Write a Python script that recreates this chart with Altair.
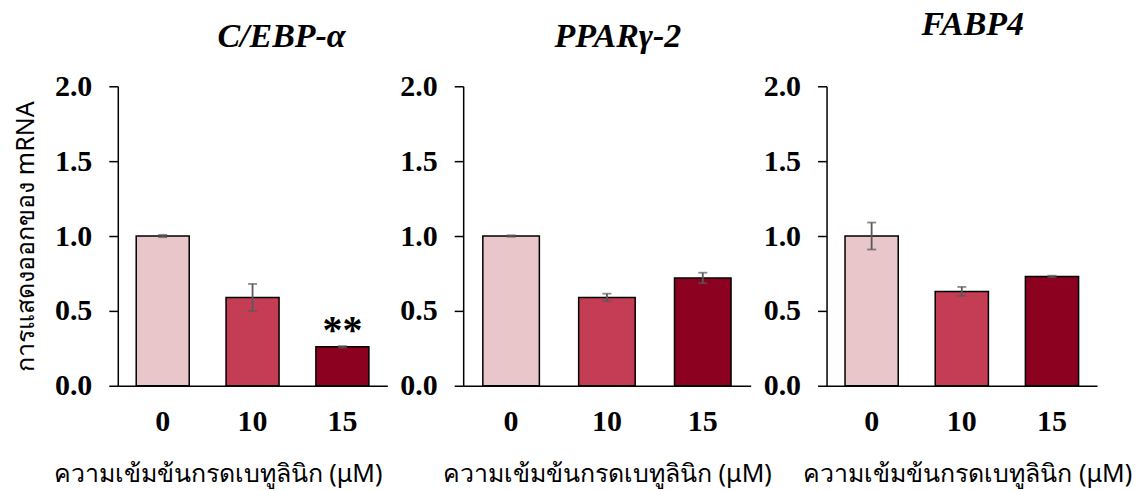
import altair as alt
import pandas as pd

# Relative mRNA expression after betulinic acid treatment (mean ± SD)
doses = ["0", "10", "15"]
bar_colors = ["#E8C6CA", "#C53C55", "#8C0020"]

genes = ["C/EBP-α", "PPARγ-2", "FABP4"]
cebpa_mean = [1.00, 0.59, 0.26]
cebpa_err = [0.008, 0.09, 0.005]
cebpa_sig = ["", "", "**"]

ppar_mean = [1.00, 0.59, 0.72]
ppar_err = [0.005, 0.025, 0.035]
ppar_sig = ["", "", ""]

fabp_mean = [1.00, 0.63, 0.73]
fabp_err = [0.09, 0.03, 0.005]
fabp_sig = ["", "", ""]

y_title = "การแสดงออกของ mRNA"
x_title = "ความเข้มข้นกรดเบทูลินิก (μM)"

SERIF = "Liberation Serif"
THAI = "Tahoma, Noto Sans, DejaVu Sans, sans-serif"


def panel(name, means, errs, sig, width, show_ytitle, title_dx, title_dy, xtitle_x):
    df = pd.DataFrame({
        "dose": doses,
        "mean": means,
        "lo": [m - e for m, e in zip(means, errs)],
        "hi": [m + e for m, e in zip(means, errs)],
        "sig": sig,
    })
    base = alt.Chart(df)
    x_enc = alt.X(
        "dose:N",
        sort=doses,
        scale=alt.Scale(paddingInner=0.41, paddingOuter=0.205),
        axis=alt.Axis(
            title=x_title,
            labelAngle=0,
            ticks=False,
            tickSize=0,
            labelPadding=36,
            labelBaseline="middle",
            labelFont=SERIF,
            labelFontWeight="bold",
            labelFontSize=30,
            labelColor="black",
            titleFont=THAI,
            titleFontSize=25,
            titleFontWeight="normal",
            titleColor="black",
            titlePadding=25,
            titleX=xtitle_x,
            domainColor="black",
            domainWidth=1.5,
        ),
    )
    y_axis = alt.Axis(
        values=[0, 0.5, 1.0, 1.5, 2.0],
        format=".1f",
        grid=False,
        tickSize=9,
        tickColor="black",
        tickWidth=1.5,
        labelPadding=17,
        labelFont=SERIF,
        labelFontWeight="bold",
        labelFontSize=30,
        labelColor="black",
        domainColor="black",
        domainWidth=1.5,
        title=y_title if show_ytitle else None,
        titleFont=THAI,
        titleFontSize=25,
        titleFontWeight="normal",
        titleColor="black",
        titlePadding=16,
    )
    bars = base.mark_bar(stroke="black", strokeWidth=1.5).encode(
        x=x_enc,
        y=alt.Y("mean:Q", scale=alt.Scale(domain=[0, 2]), axis=y_axis),
        color=alt.Color("dose:N", scale=alt.Scale(domain=doses, range=bar_colors), legend=None),
    )
    stems = base.mark_rule(color="#595959", strokeWidth=1.8).encode(
        x=alt.X("dose:N", sort=doses), y="lo:Q", y2="hi:Q"
    )
    caps_lo = base.mark_tick(color="#595959", thickness=1.8, size=9).encode(
        x=alt.X("dose:N", sort=doses), y="lo:Q"
    )
    caps_hi = base.mark_tick(color="#595959", thickness=1.8, size=9).encode(
        x=alt.X("dose:N", sort=doses), y="hi:Q"
    )
    stars = base.mark_text(
        font=SERIF, fontSize=40, fontWeight="bold", baseline="alphabetic", dy=-3, color="black"
    ).encode(x=alt.X("dose:N", sort=doses), y="hi:Q", text="sig:N")
    return alt.layer(bars, stems, caps_lo, caps_hi, stars).properties(
        width=width,
        height=300,
        title=alt.TitleParams(
            text=name,
            font=SERIF,
            fontSize=34,
            fontStyle="italic",
            fontWeight="bold",
            color="black",
            anchor="middle",
            frame="group",
            dx=title_dx,
            dy=title_dy,
            offset=17,
        ),
    )


p1 = panel(genes[0], cebpa_mean, cebpa_err, cebpa_sig, 270, True, 29, 0, 100)
p2 = panel(genes[1], ppar_mean, ppar_err, ppar_sig, 288, False, 11, 0, 144)
p3 = panel(genes[2], fabp_mean, fabp_err, fabp_sig, 271, False, 11, -12, 141)

chart = (
    alt.hconcat(p1, p2, p3, spacing=76, bounds="flush")
    .properties(padding={"left": 13, "top": 8, "right": 5, "bottom": 5}, background="white")
    .configure_view(stroke=None)
)

chart.save("out.html", embed_options={"renderer": "svg", "actions": False})
